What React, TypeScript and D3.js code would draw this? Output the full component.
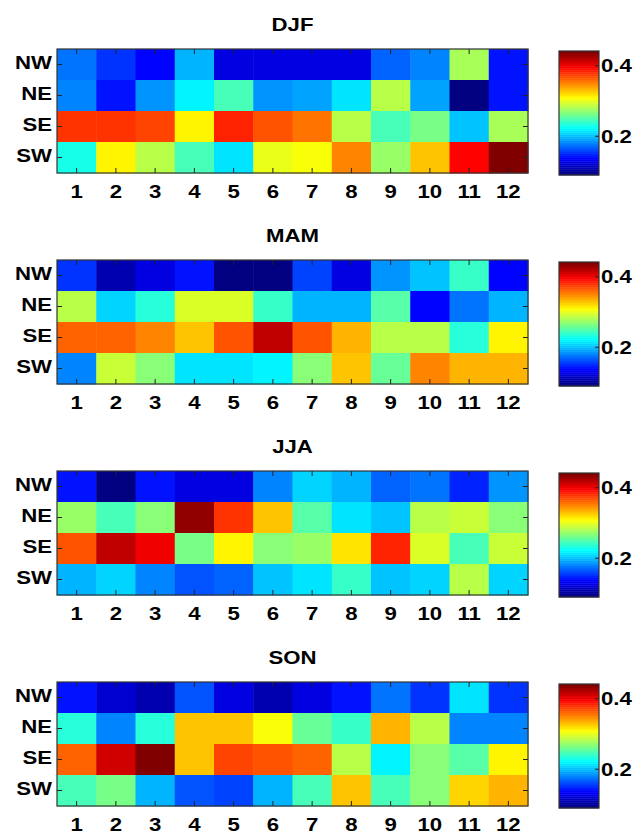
import React, { useEffect, useRef } from 'react';
import * as d3 from 'd3';

const seasons = ['DJF', 'MAM', 'JJA', 'SON'];
const regions = ['NW', 'NE', 'SE', 'SW'];
const months = ['1', '2', '3', '4', '5', '6', '7', '8', '9', '10', '11', '12'];
const colorTicks = [0.2, 0.4];
const colorDomain = [0.09, 0.442];

// rows: NW, NE, SE, SW
const djf = [
  [0.174, 0.150, 0.132, 0.196, 0.122, 0.125, 0.125, 0.125, 0.166, 0.180, 0.280, 0.138],
  [0.182, 0.143, 0.187, 0.217, 0.248, 0.187, 0.192, 0.213, 0.287, 0.192, 0.090, 0.139],
  [0.380, 0.380, 0.375, 0.315, 0.386, 0.368, 0.358, 0.284, 0.248, 0.262, 0.199, 0.280],
  [0.231, 0.314, 0.287, 0.248, 0.213, 0.301, 0.308, 0.354, 0.275, 0.328, 0.396, 0.442],
];
const mam = [
  [0.152, 0.108, 0.122, 0.138, 0.090, 0.090, 0.157, 0.122, 0.187, 0.199, 0.240, 0.136],
  [0.287, 0.208, 0.234, 0.298, 0.298, 0.240, 0.196, 0.196, 0.252, 0.136, 0.174, 0.196],
  [0.363, 0.363, 0.350, 0.333, 0.372, 0.421, 0.368, 0.336, 0.284, 0.287, 0.234, 0.314],
  [0.178, 0.292, 0.270, 0.213, 0.213, 0.217, 0.270, 0.328, 0.257, 0.354, 0.336, 0.336],
];
const jja = [
  [0.138, 0.090, 0.138, 0.125, 0.122, 0.178, 0.210, 0.196, 0.169, 0.174, 0.146, 0.187],
  [0.275, 0.248, 0.266, 0.438, 0.380, 0.328, 0.252, 0.213, 0.204, 0.284, 0.292, 0.266],
  [0.372, 0.421, 0.403, 0.262, 0.314, 0.266, 0.275, 0.319, 0.386, 0.298, 0.248, 0.292],
  [0.196, 0.208, 0.182, 0.160, 0.169, 0.204, 0.213, 0.240, 0.204, 0.208, 0.287, 0.208],
];
const son = [
  [0.143, 0.116, 0.104, 0.164, 0.122, 0.108, 0.125, 0.138, 0.174, 0.152, 0.213, 0.152],
  [0.234, 0.182, 0.234, 0.328, 0.333, 0.310, 0.257, 0.240, 0.336, 0.284, 0.182, 0.182],
  [0.363, 0.416, 0.442, 0.333, 0.375, 0.372, 0.363, 0.284, 0.217, 0.266, 0.252, 0.314],
  [0.248, 0.262, 0.196, 0.160, 0.157, 0.196, 0.248, 0.328, 0.248, 0.266, 0.322, 0.336],
];
const seasonData = [djf, mam, jja, son];

// matlab style jet, 64 levels
const jet = (t: number) => {
  const q = Math.round(Math.max(0, Math.min(1, t)) * 63) / 63;
  const c = (x: number) => Math.round(255 * Math.max(0, Math.min(1, x)));
  const r = Math.min(4 * q - 1.5, -4 * q + 4.5);
  const g = Math.min(4 * q - 0.5, -4 * q + 3.5);
  const b = Math.min(4 * q + 0.5, -4 * q + 2.5);
  return `rgb(${c(r)},${c(g)},${c(b)})`;
};

const font = '"Liberation Sans", Arial, Helvetica, sans-serif';

const App = () => {
  const ref = useRef<SVGSVGElement>(null);

  useEffect(() => {
    const svg = d3.select(ref.current);
    svg.selectAll('*').remove();

    const left = 57, right = 528, h = 124, top0 = 49, step = 211;
    const cbX = 559, cbW = 40;
    const tick = 5;

    const norm = d3.scaleLinear().domain(colorDomain).range([0, 1]).clamp(true);

    // the source text is a little stretched sideways
    const label = (g: any, x: number, y: number, s: string, anchor: string) =>
      g.append('text')
        .attr('transform', `translate(${x},${y}) scale(1.2,1)`)
        .attr('text-anchor', anchor)
        .attr('font-family', font)
        .attr('font-weight', 'bold')
        .attr('font-size', 18.5)
        .attr('fill', '#000')
        .text(s);

    seasonData.forEach((data, si) => {
      const top = top0 + step * si;
      const g = svg.append('g');

      const x = d3.scaleBand().domain(months).range([left, right]);
      const y = d3.scaleBand().domain(regions).range([top, top + h]);

      label(g, (left + right) / 2, top - 18.5, seasons[si], 'middle');

      const cells = data.flatMap((row, ri) => row.map((v, mi) => ({ r: regions[ri], m: months[mi], v })));
      g.selectAll('.cell')
        .data(cells)
        .enter()
        .append('rect')
        .attr('x', d => x(d.m)!)
        .attr('y', d => y(d.r)!)
        .attr('width', x.bandwidth() + 0.5)
        .attr('height', y.bandwidth() + 0.5)
        .attr('fill', d => jet(norm(d.v)));

      // inward ticks all round
      months.forEach(m => {
        const cx = x(m)! + x.bandwidth() / 2;
        g.append('line').attr('x1', cx).attr('x2', cx).attr('y1', top + h).attr('y2', top + h - tick).attr('stroke', '#222');
        g.append('line').attr('x1', cx).attr('x2', cx).attr('y1', top).attr('y2', top + tick).attr('stroke', '#222');
        label(g, cx, top + h + 24.5, m, 'middle');
      });
      regions.forEach(r => {
        const cy = y(r)! + y.bandwidth() / 2;
        g.append('line').attr('x1', left).attr('x2', left + tick).attr('y1', cy).attr('y2', cy).attr('stroke', '#222');
        g.append('line').attr('x1', right).attr('x2', right - tick).attr('y1', cy).attr('y2', cy).attr('stroke', '#222');
        label(g, left - 5, cy + 4.5, r, 'end');
      });

      g.append('rect')
        .attr('x', left).attr('y', top)
        .attr('width', right - left).attr('height', h)
        .attr('fill', 'none').attr('stroke', '#333').attr('stroke-width', 1.2);

      // colorbar
      const cbTop = top + 2, cbBot = top + 126;
      const cy = d3.scaleLinear().domain(colorDomain).range([cbBot, cbTop]);
      const levels = d3.range(64);
      const lh = (cbBot - cbTop) / 64;
      g.selectAll('.lvl')
        .data(levels)
        .enter()
        .append('rect')
        .attr('x', cbX)
        .attr('y', d => cbBot - (d + 1) * lh)
        .attr('width', cbW)
        .attr('height', lh + 0.4)
        .attr('fill', d => jet(d / 63));
      g.append('rect')
        .attr('x', cbX).attr('y', cbTop)
        .attr('width', cbW).attr('height', cbBot - cbTop)
        .attr('fill', 'none').attr('stroke', '#333').attr('stroke-width', 1.2);
      colorTicks.forEach(t => {
        g.append('line')
          .attr('x1', cbX + cbW).attr('x2', cbX + cbW - 4)
          .attr('y1', cy(t)).attr('y2', cy(t))
          .attr('stroke', '#222');
        label(g, cbX + cbW + 2, cy(t) + 6.5, t.toFixed(1), 'start');
      });
    });
  }, []);

  return (
    <svg
      ref={ref}
      width={638}
      height={833}
      style={{ position: 'absolute', left: 0, top: 0, background: '#fff' }}
    ></svg>
  );
};

export default App;
